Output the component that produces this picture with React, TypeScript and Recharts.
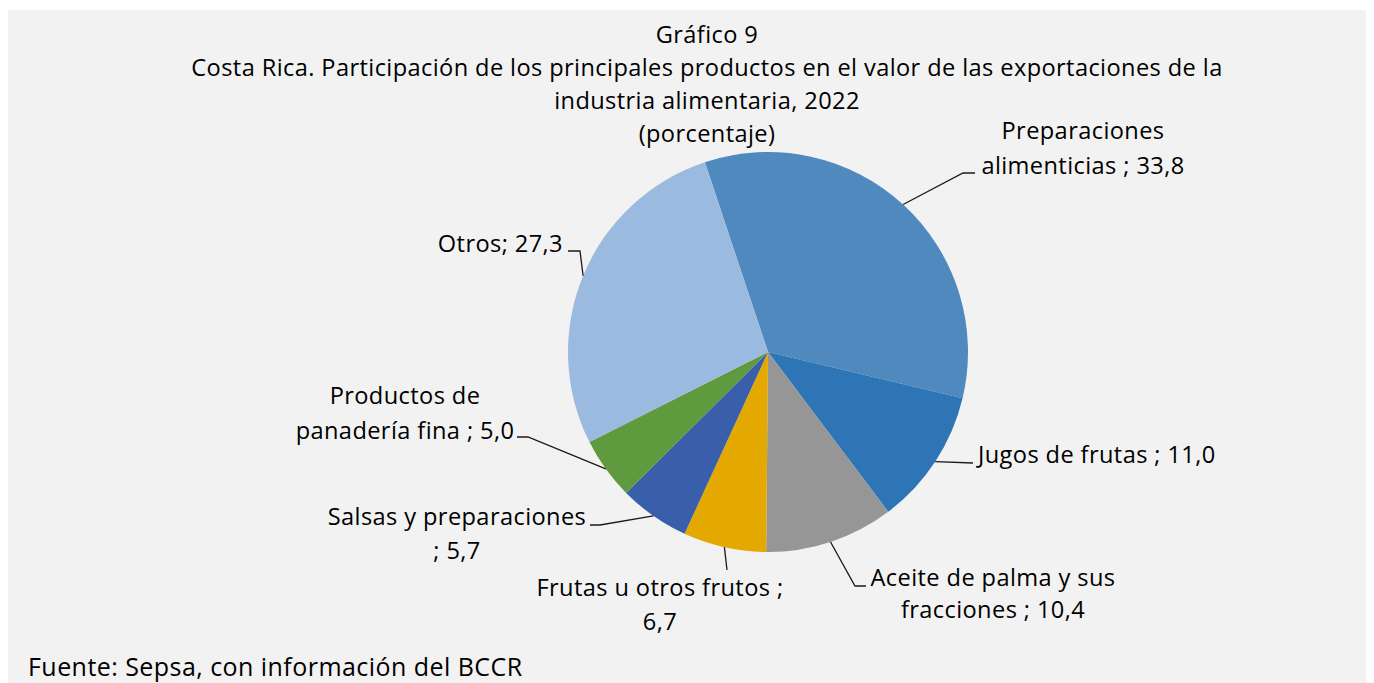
import { PieChart, Pie, Cell } from "recharts";

const productos = [
  "Preparaciones alimenticias",
  "Jugos de frutas",
  "Aceite de palma y sus fracciones",
  "Frutas u otros frutos",
  "Salsas y preparaciones",
  "Productos de panadería fina",
  "Otros",
];
const participacion = [33.8, 11.0, 10.4, 6.7, 5.7, 5.0, 27.3];
const etiquetas = [
  ["Preparaciones", "alimenticias ; 33,8"],
  ["Jugos de frutas ; 11,0"],
  ["Aceite de palma y sus", "fracciones ; 10,4"],
  ["Frutas u otros frutos ;", "6,7"],
  ["Salsas y preparaciones", "; 5,7"],
  ["Productos de", "panadería fina ; 5,0"],
  ["Otros; 27,3"],
];
const colores = ["#4F89BE", "#2E75B6", "#969696", "#E4A900", "#3A5FAA", "#5F9A3F", "#9BBAE0"];

const data = productos.map((name, i) => ({ name, value: participacion[i] }));

// where each label sits, relative to the pie centre (elbow, end of leader, text)
const layout = [
  { elbow: [195, -179], end: [207, -179], tx: 315, ty: [-213, -178], anchor: "middle" },
  { elbow: null, end: [205, 111], tx: 210, ty: [111], anchor: "start" },
  { elbow: [87, 234], end: [98, 234], tx: 225, ty: [234, 266], anchor: "middle" },
  { elbow: null, end: [-41, 218], tx: -108, ty: [244, 278], anchor: "middle" },
  { elbow: [-168, 173], end: [-178, 173], tx: -311, ty: [173, 207], anchor: "middle" },
  { elbow: [-240, 85], end: [-251, 85], tx: -363, ty: [52, 87], anchor: "middle" },
  { elbow: [-188, -101], end: [-200, -101], tx: -205, ty: [-100], anchor: "end" },
];

const FONT = "'Open Sans', sans-serif";
const FS = 23.6;
const LS = 0.4;
const RAD = Math.PI / 180;

const renderLabel = (props: any) => {
  const { cx, cy, midAngle, outerRadius, index } = props;
  const l = layout[index];
  const sx = cx + outerRadius * Math.cos(-midAngle * RAD);
  const sy = cy + outerRadius * Math.sin(-midAngle * RAD);
  const pts = [[sx, sy]];
  if (l.elbow) pts.push([cx + l.elbow[0], cy + l.elbow[1]]);
  pts.push([cx + l.end[0], cy + l.end[1]]);
  return (
    <g key={`lbl-${index}`}>
      <polyline points={pts.map((p) => p.join(",")).join(" ")} fill="none" stroke="#1a1a1a" strokeWidth={1.3} />
      {etiquetas[index].map((t, j) => (
        <text key={j} x={cx + l.tx} y={cy + l.ty[j]} textAnchor={l.anchor} fill="#000" fontSize={FS} letterSpacing={LS} fontFamily={FONT}>
          {t}
        </text>
      ))}
    </g>
  );
};

export default function App() {
  return (
    <div style={{ position: "relative", width: 1366, height: 673, marginTop: 2, background: "#F2F2F2", fontFamily: FONT, letterSpacing: LS }}>
      <div style={{ position: "absolute", left: 0, top: 8, width: 1398, textAlign: "center", fontSize: FS, lineHeight: "33px", color: "#000" }}>
        <div>Gráfico 9</div>
        <div>Costa Rica. Participación de los principales productos en el valor de las exportaciones de la</div>
        <div>industria alimentaria, 2022</div>
        <div>(porcentaje)</div>
      </div>
      <PieChart width={1366} height={673} margin={{ top: 0, right: 0, bottom: 0, left: 0 }} style={{ position: "absolute", left: 0, top: 0 }}>
        <Pie
          data={data}
          dataKey="value"
          nameKey="name"
          cx={760}
          cy={342}
          outerRadius={200}
          startAngle={108.4}
          endAngle={-251.6}
          stroke="none"
          label={renderLabel}
          labelLine={false}
          isAnimationActive={false}
        >
          {data.map((d, i) => (
            <Cell key={d.name} fill={colores[i]} />
          ))}
        </Pie>
      </PieChart>
      <div style={{ position: "absolute", left: 20, top: 639, fontSize: 25, letterSpacing: 0.45, color: "#000" }}>
        Fuente: Sepsa, con información del BCCR
      </div>
    </div>
  );
}
